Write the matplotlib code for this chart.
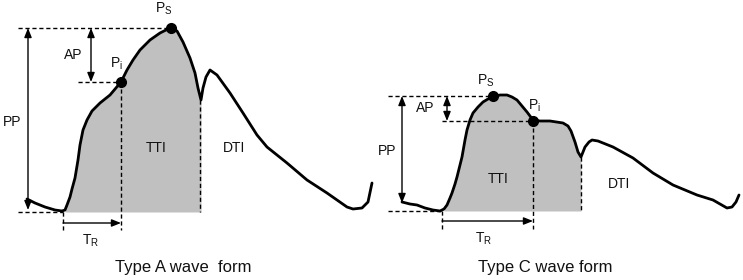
import numpy as np
import matplotlib
matplotlib.use("Agg")
import matplotlib.pyplot as plt

plt.rcParams['font.family'] = ['Liberation Sans', 'DejaVu Sans']
plt.rcParams['mathtext.fontset'] = 'custom'
plt.rcParams['mathtext.rm'] = 'Liberation Sans'

# waveforms (x, y in picture pixels, y grows downwards)
type_a_x = [27, 35, 45, 55, 62, 65, 67, 70, 72, 75, 78, 80, 83, 87, 92, 100, 110, 121,
            127, 133, 140, 150, 160, 166, 171, 177, 183, 190, 195, 198, 201, 203, 206,
            210, 217, 230, 243, 257, 267, 287, 307, 327, 347, 353, 362, 368, 372]
type_a_y = [199, 203, 207, 210, 211, 210, 205, 197, 189, 178, 160, 145, 130, 120, 111,
            103, 95, 82, 70, 60, 50, 40, 33, 30, 28, 31, 42, 58, 73, 88, 100, 88, 77,
            70, 75, 93, 113, 135, 147, 163, 180, 193, 207, 209, 208, 202, 183]

type_c_x = [402, 410, 417, 425, 433, 440, 444, 447, 450, 452, 455, 457, 460, 462, 465,
            467, 470, 473, 478, 483, 488, 493, 500, 507, 512, 517, 522, 527, 533, 540,
            550, 563, 568, 571, 575, 578, 581, 585, 589, 592, 598, 613, 633, 653, 673,
            697, 713, 727, 732, 736, 739]
type_c_y = [202, 204, 205, 208, 210, 211, 209, 205, 198, 193, 184, 177, 165, 157, 140,
            130, 120, 113, 107, 102, 99, 97, 95, 95, 97, 100, 106, 112, 120, 121,
            121, 123, 126, 131, 142, 152, 157, 147, 142, 140, 141, 147, 158, 173, 185,
            195, 200, 208, 207, 202, 195]

# TTI shading: from upstroke foot to dicrotic notch
a_fill = (65, 201)
c_fill = (444, 581)
baseline_a = 212
baseline_c = 211

# marked points (x, y)
a_ps, a_pi = (171, 28), (121, 82)
c_ps, c_pi = (493, 96), (533, 121)

fig = plt.figure(figsize=(7.43, 2.8), dpi=100)
ax = fig.add_axes([0, 0, 1, 1])
ax.set_xlim(0, 743)
ax.set_ylim(280, 0)
ax.axis('off')

gray = '#c0c0c0'
dash = dict(color='black', lw=1.0, ls=(0, (3, 2)))


def draw_wave(xs, ys, fill, base):
    xs = np.array(xs)
    ys = np.array(ys)
    m = (xs >= fill[0]) & (xs <= fill[1])
    ax.fill_between(xs[m], ys[m], base, color=gray, lw=0, zorder=1)
    ax.plot(xs, ys, color='black', lw=2.0, solid_capstyle='round', zorder=3)


def arrow(x0, y0, x1, y1, style):
    ax.annotate('', xy=(x1, y1), xytext=(x0, y0),
                arrowprops=dict(arrowstyle=style + ',head_length=0.55,head_width=0.22',
                                color='black', lw=1.0, shrinkA=0, shrinkB=0),
                zorder=4)


draw_wave(type_a_x, type_a_y, a_fill, baseline_a)
draw_wave(type_c_x, type_c_y, c_fill, baseline_c)

# ---- Type A annotations
ax.plot([18, a_ps[0]], [a_ps[1], a_ps[1]], **dash)
ax.plot([18, 63], [baseline_a, baseline_a], **dash)
ax.plot([78, a_pi[0]], [a_pi[1], a_pi[1]], **dash)
ax.plot([a_pi[0], a_pi[0]], [a_pi[1], 230], **dash)
ax.plot([a_fill[1] - 1, a_fill[1] - 1], [100, baseline_a], **dash)
ax.plot([63, 63], [baseline_a, 230], **dash)
arrow(28, 210, 28, a_ps[1], '<|-|>')
arrow(91, a_pi[1], 91, a_ps[1], '<|-|>')
arrow(63, 223, a_pi[0], 223, '-|>')
ax.plot(*a_ps, 'o', color='black', ms=7, zorder=5)
ax.plot(*a_pi, 'o', color='black', ms=7, zorder=5)

# ---- Type C annotations
ax.plot([388, c_ps[0]], [c_ps[1], c_ps[1]], **dash)
ax.plot([388, 442], [baseline_c, baseline_c], **dash)
ax.plot([442, c_pi[0]], [c_pi[1], c_pi[1]], **dash)
ax.plot([c_pi[0], c_pi[0]], [c_pi[1], 229], **dash)
ax.plot([c_fill[1], c_fill[1]], [157, baseline_c], **dash)
ax.plot([442, 442], [baseline_c, 229], **dash)
arrow(402, 203, 402, c_ps[1], '<|-|>')
arrow(447, c_pi[1], 447, c_ps[1], '<|-|>')
arrow(442, 221, c_pi[0], 221, '-|>')
ax.plot(*c_ps, 'o', color='black', ms=7, zorder=5)
ax.plot(*c_pi, 'o', color='black', ms=7, zorder=5)

# ---- labels
lab = dict(fontsize=10, color='#111111', va='baseline', zorder=6)
for x, y, s in [(12, 126, 'PP'), (73, 59, 'AP'), (156, 152, 'TTI'), (234, 152, 'DTI'),
                (387, 155, 'PP'), (425, 112, 'AP'), (498, 183, 'TTI'), (619, 188, 'DTI')]:
    ax.text(x, y, s, ha='center', **lab)
for x, y, s in [(155, 13, r'$\mathregular{P_S}$'), (110, 68, r'$\mathregular{P_i}$'),
                (82, 245, r'$\mathregular{T_R}$'),
                (477, 85, r'$\mathregular{P_S}$'), (528, 110, r'$\mathregular{P_i}$'),
                (475, 243, r'$\mathregular{T_R}$')]:
    ax.text(x, y, s, ha='left', **lab)

ax.text(183, 272, 'Type A wave  form', ha='center', va='baseline', fontsize=12, color='#111111')
ax.text(545, 272, 'Type C wave form', ha='center', va='baseline', fontsize=12, color='#111111')

fig.savefig('out.png', dpi=100)
